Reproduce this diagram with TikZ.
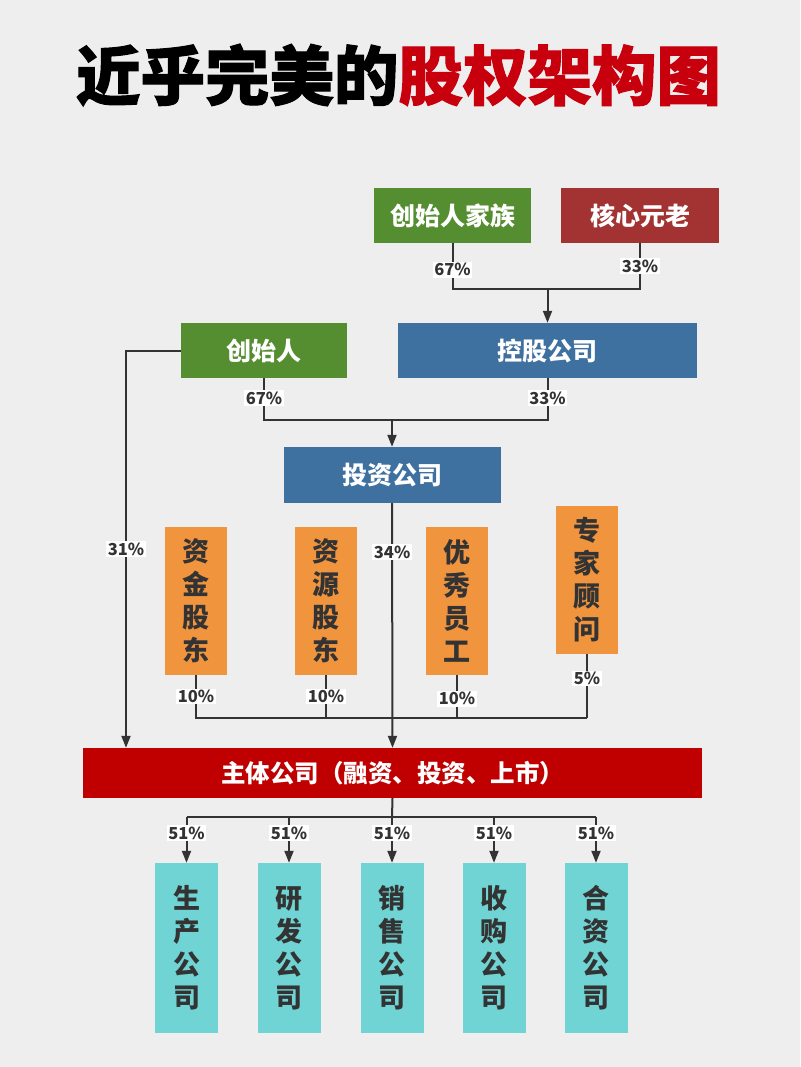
\documentclass[tikz,border=0pt]{standalone}
\usepackage{fontspec}
\setmainfont{Noto Sans CJK SC}
\newfontfamily\titlefont{Noto Sans CJK SC}[BoldFeatures={FakeBold=1.6}]
\usetikzlibrary{arrows.meta}
\definecolor{bgcol}{HTML}{EEEEEE}
\definecolor{boxgreen}{HTML}{548E30}
\definecolor{boxdred}{HTML}{A33232}
\definecolor{boxblue}{HTML}{3E70A0}
\definecolor{boxorange}{HTML}{F0943E}
\definecolor{boxred}{HTML}{C00000}
\definecolor{boxteal}{HTML}{70D4D4}
\definecolor{titlered}{HTML}{C8000E}
\definecolor{linecol}{HTML}{333333}
\definecolor{darktext}{HTML}{333333}
\tikzset{
  hbox/.style={inner sep=0pt, text=white, font=\fontsize{25}{25}\selectfont\bfseries},
  vbox/.style={inner sep=0pt, text=darktext, align=center, font=\fontsize{27}{33}\selectfont\bfseries},
  pct/.style={fill=white, text=darktext, inner sep=1.5pt, font=\fontsize{16.5}{16.5}\selectfont\bfseries},
  conn/.style={draw=linecol, line width=2pt},
  arr/.style={conn, -{Triangle[length=12pt,width=9pt]}},
}
\begin{document}
\begin{tikzpicture}[x=1pt,y=-1pt]
\fill[bgcol] (0,0) rectangle (800,1067);
\useasboundingbox (0,0) rectangle (800,1067);
% title
\node (title) at (398.5,75) {\titlefont\fontsize{64.5}{64.5}\selectfont\bfseries\color{black}近乎完美的\color{titlered}股权架构图};
% top level
\node[hbox, fill=boxgreen, minimum width=157pt, minimum height=55pt] (fam) at (452.5,215.5) {创始人家族};
\node[hbox, fill=boxdred, minimum width=158pt, minimum height=55pt] (old) at (640,215.5) {核心元老};
\node[hbox, fill=boxgreen, minimum width=166pt, minimum height=55pt] (founder) at (264,350.5) {创始人};
\node[hbox, fill=boxblue, minimum width=299pt, minimum height=55pt] (hold) at (547.5,350.5) {控股公司};
\node[hbox, fill=boxblue, minimum width=217pt, minimum height=56pt] (invest) at (392,475) {投资公司};
% orange boxes
\node[vbox, fill=boxorange, minimum width=62pt, minimum height=148pt] (o1) at (196,601) {资\\金\\股\\东};
\node[vbox, fill=boxorange, minimum width=62pt, minimum height=148pt] (o2) at (326,601) {资\\源\\股\\东};
\node[vbox, fill=boxorange, minimum width=62pt, minimum height=148pt] (o3) at (457,601) {优\\秀\\员\\工};
\node[vbox, fill=boxorange, minimum width=62pt, minimum height=148pt] (o4) at (587,580) {专\\家\\顾\\问};
% main company
\node[hbox, fill=boxred, minimum width=619pt, minimum height=50pt, font=\fontsize{24.5}{24.5}\selectfont\bfseries] (main) at (392.5,773) {主体公司（融资、投资、上市）};
% teal boxes
\node[vbox, fill=boxteal, minimum width=63pt, minimum height=170pt] (t1) at (186.5,948) {生\\产\\公\\司};
\node[vbox, fill=boxteal, minimum width=63pt, minimum height=170pt] (t2) at (289,948) {研\\发\\公\\司};
\node[vbox, fill=boxteal, minimum width=63pt, minimum height=170pt] (t3) at (392,948) {销\\售\\公\\司};
\node[vbox, fill=boxteal, minimum width=63pt, minimum height=170pt] (t4) at (494,948) {收\\购\\公\\司};
\node[vbox, fill=boxteal, minimum width=63pt, minimum height=170pt] (t5) at (596,948) {合\\资\\公\\司};
% junctions
\coordinate (j1) at (547.5,289);
\coordinate (j2) at (392,420);
\coordinate (j3) at (392,718);
\coordinate (j4) at (392,817);
\coordinate (cl) at (126,350.5);
% family + elders -> holding
\draw[conn] (fam.south) -- node[pct,pos=0.58]{67\%} (fam.south |- j1) -- (old.south |- j1) -- node[pct,pos=0.5]{33\%} (old.south);
\draw[arr] (j1) -- (hold.north);
% founder -> main (31%)
\draw[arr] (founder.west) -- (cl) -- node[pct,pos=0.5]{31\%} (cl |- main.north);
% founder + holding -> invest
\draw[conn] (founder.south) -- node[pct,pos=0.48]{67\%} (founder.south |- j2) -- (hold.south |- j2) -- node[pct,pos=0.52]{33\%} (hold.south);
\draw[arr] (j2) -- (invest.north);
% invest -> main (34%)
\draw[arr] (invest.south) -- node[pct,pos=0.2]{34\%} (main.north);
% orange boxes -> main
\draw[conn] (o1.south) -- node[pct,pos=0.5]{10\%} (o1.south |- j3) -- (o4.south |- j3);
\draw[conn] (o2.south) -- node[pct,pos=0.5]{10\%} (o2.south |- j3);
\draw[conn] (o3.south) -- node[pct,pos=0.55]{10\%} (o3.south |- j3);
\draw[conn] (o4.south) -- node[pct,pos=0.38]{5\%} (o4.south |- j3);
% main -> subsidiaries
\draw[conn] (main.south) -- (j4);
\draw[conn] (t1.north |- j4) -- (t5.north |- j4);
\foreach \t in {t1,t2,t3,t4,t5}{
  \draw[arr] (\t.north |- j4) -- node[pct,pos=0.35]{51\%} (\t.north);
}
\end{tikzpicture}
\end{document}
